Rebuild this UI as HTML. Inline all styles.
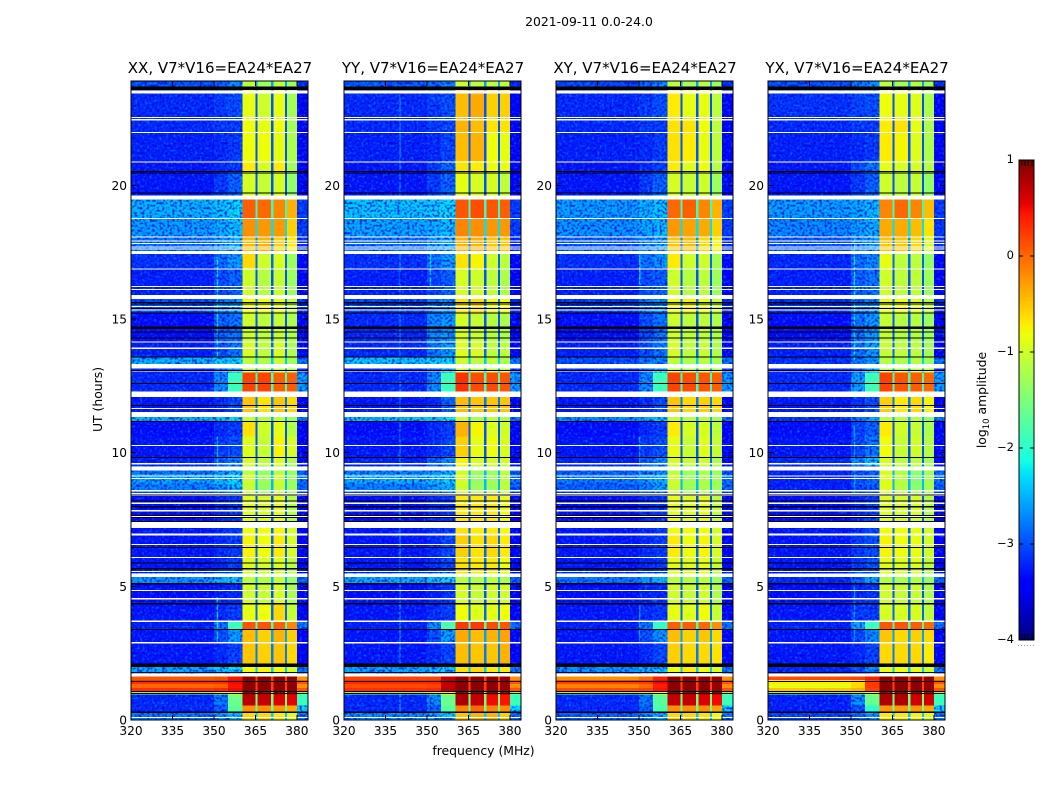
<!DOCTYPE html>
<html lang="en">
<head>
<meta charset="utf-8">
<title>2021-09-11 waterfall</title>
<style>
html,body{margin:0;padding:0;background:#fff;}
svg{display:block;font-family:"DejaVu Sans","Liberation Sans",sans-serif;fill:#000;}
</style>
</head>
<body>
<svg id="fig" xmlns="http://www.w3.org/2000/svg" width="1050" height="800" viewBox="0 0 1050 800">
<defs>
<filter id="grainLight" x="0" y="0" width="100%" height="100%">
<feTurbulence type="fractalNoise" baseFrequency="0.42" numOctaves="1" seed="4"/>
<feColorMatrix values="0 0 0 0 0  0 0 0 0 0.7  0 0 0 0 1  3.2 0 0 0 -1.6"/>
</filter>
<filter id="grainDark" x="0" y="0" width="100%" height="100%">
<feTurbulence type="fractalNoise" baseFrequency="0.4" numOctaves="1" seed="11"/>
<feColorMatrix values="0 0 0 0 0  0 0 0 0 0  0 0 0 0 0.72  3.4 0 0 0 -1.5"/>
</filter>
</defs>
<text x="589" y="26" font-size="12.4" text-anchor="middle">2021-09-11 0.0-24.0</text>
<text x="483.5" y="755" font-size="12.4" text-anchor="middle">frequency (MHz)</text>
<text x="102" y="399.5" font-size="12.4" text-anchor="middle" transform="rotate(-90 102 399.5)">UT (hours)</text>
<text x="986" y="400" font-size="12.4" text-anchor="middle" transform="rotate(-90 986 400)">log<tspan font-size="8.5" dy="3">10</tspan><tspan dy="-3"> amplitude</tspan></text>
</svg>
<script>
const panelTitles = ["XX, V7*V16=EA24*EA27", "YY, V7*V16=EA24*EA27", "XY, V7*V16=EA24*EA27", "YX, V7*V16=EA24*EA27"];
const xTickValues = [320, 335, 350, 365, 380];
const yTickValues = [0, 5, 10, 15, 20];
const colorTickValues = [1, 0, -1, -2, -3, -4];
const freqEdgesMHz = [320, 350, 355, 360.4, 365, 365.8, 370.7, 371.5, 375.6, 376.4, 380, 384];
const freqColumnSource = [0, 1, 2, 3, "line", 4, "line", 5, "line", 6, "right"];
const rowStartUT = [0,.3,.55,.95,1.05,1.2,1.35,1.5,1.74,2.11,2.9,3.4,3.72,4.34,5.1,5.5,6.1,7,7.4,8.5,8.85,9.2,9.5,9.85,10.6,11.17,11.33,12.09,13,13.31,13.55,14.1,15.2,15.9,16.9,17.45,18.06,18.76,19.46,20.5,20.9,22,22.5,23.43,23.7];
const rowLineLevel = [-2.2,-1.6,-1.4,-1.2,.2,.2,.2,.2,-2.2,-2.6,-2.4,-1.8,-2.7,-2.8,-2.3,-2.7,-2.7,-2.7,-2.8,-2.3,-2.3,-2.3,-2.7,-2.8,-2.8,-2.3,-2.6,-1.8,-2.4,-2.2,-2.7,-2.8,-2.6,-2.8,-2.7,-2.5,-2.1,-1.9,-2.8,-2.8,-2.8,-2.8,-2.8,-2.8,-2.4];
const rowRightLevel = [-2.6,-2.1,-1.9,-1.4,.1,-.1,.1,-.1,-2.6,-3.25,-3.2,-2.6,-3.25,-3.3,-2.7,-3.25,-3.25,-3.25,-3.3,-2.7,-2.6,-2.7,-3.2,-3.25,-3.3,-2.6,-3.25,-2.4,-3,-2.6,-3.2,-3.3,-3,-3.3,-3.2,-3,-2.9,-2.9,-3.3,-3.3,-3.3,-3.3,-3.3,-3.3,-3];
const xxLevels = [
[-2.6,-2.4,-2.2,-.5,-.5,-.6,-.8],[-3,-2.7,-1.7,-.1,-.1,-.15,-.25],[-3,-2.6,-1.6,.75,.7,.6,.55],[-1.5,-1,-.6,.9,.9,.9,.9],
[.3,.35,.5,.95,.95,.95,.95],[0,.05,.45,.95,.95,.95,.95],[.3,.3,.5,.95,.95,.95,.95],[.1,.15,.45,.95,.95,.95,.95],
[-2.35,-2.2,-2.1,-.7,-.65,-.7,-.85],[-3.1,-3,-2.85,-.4,-.45,-.4,-.5],[-3.1,-2.8,-2.4,-.35,-.45,-.3,-.45],[-3.05,-2.6,-1.9,.1,.1,.05,-.05],
[-3.1,-3,-2.9,-.75,-.7,-.5,-.95],[-3.15,-3.05,-3,-.9,-.95,-.85,-1.1],[-2.45,-2.3,-2.2,-1,-1.05,-.95,-1.25],[-3.1,-3,-2.9,-.8,-.85,-.8,-1],
[-3.1,-3,-2.9,-.65,-.7,-.6,-.85],[-3.1,-3,-2.9,-.7,-.7,-.65,-.85],[-3.15,-3,-2.95,-.8,-.85,-.75,-1.05],[-2.55,-2.4,-2.2,-.95,-1.25,-.95,-1.2],
[-2.35,-2.25,-2.1,-.9,-1.2,-.9,-1.2],[-2.6,-2.45,-2.3,-1,-1.25,-1,-1.2],[-3.05,-2.7,-2.5,-.85,-1,-.8,-1.1],[-3.1,-2.9,-2.8,-.8,-.95,-.65,-.85],
[-3.15,-3,-2.9,-.55,-.9,-.75,-1.05],[-2.3,-2.2,-2.1,-.95,-1.05,-.95,-1.2],[-3.1,-3,-2.8,-.4,-.55,-.4,-.5],[-3,-2.5,-1.9,.2,.2,.05,.05],
[-3,-2.7,-2.4,-1,-1.1,-1,-1.1],[-2.3,-2.15,-2.1,-1,-1.1,-.95,-1.15],[-3.05,-2.8,-2.6,-.85,-1,-.85,-1.1],[-3.15,-2.7,-2.6,-.9,-1,-.95,-1.1],
[-2.8,-2.5,-2.4,-.7,-.7,-.75,-1],[-3.05,-2.8,-2.7,-.9,-1.05,-.95,-1.2],[-2.95,-2.6,-2.4,-.5,-.9,-.85,-1.2],[-2.6,-2.4,-2.3,-.35,-.3,-.45,-.6],
[-2.4,-2.3,-2.2,-.1,-.15,-.15,-.45],[-2.3,-2.2,-2.1,.05,0,-.05,-.3],[-3.1,-2.9,-2.7,-.85,-.95,-.85,-1.25],[-3.1,-3,-2.95,-.6,-.85,-.6,-1.15],
[-3.05,-3,-2.9,-.7,-.7,-.75,-1.1],[-3,-2.9,-2.9,-.7,-.75,-.7,-1.15],[-3,-2.9,-2.8,-.75,-.9,-.75,-1.15],[-3,-2.9,-2.8,-.75,-.9,-.75,-1.15],[-2.8,-2.7,-2.5,-1,-1.2,-1,-1.2]
];
const yyLevels = [
[-2.5,-2.35,-2.2,-.4,-.3,-.3,-.45],[-3,-2.7,-1.7,-.05,0,-.05,-.1],[-3,-2.5,-1.6,.8,.7,.5,.45],[-1.4,-1,-.6,.9,.9,.9,.9],
[.3,.35,.75,.95,.95,.95,.9],[.15,.2,.7,.95,.95,.95,.9],[.35,.35,.75,.95,.95,.95,.9],[.2,.2,.7,.95,.95,.95,.9],
[-2.35,-2.25,-2.15,-.55,-.5,-.6,-.6],[-3.1,-3,-2.85,-.35,-.4,-.4,-.3],[-3.1,-2.8,-2.4,-.25,-.35,-.3,-.2],[-3.05,-2.5,-1.8,.25,.25,.15,.1],
[-3.1,-3,-2.9,-.7,-.8,-.75,-.7],[-3.15,-3.05,-2.95,-.85,-.95,-.9,-.9],[-2.35,-2.25,-2.15,-1,-1.05,-1,-1.1],[-3.1,-3,-2.85,-.55,-.6,-.6,-.7],
[-3.1,-3,-2.85,-.45,-.55,-.5,-.6],[-3.1,-3,-2.9,-.55,-.6,-.6,-.7],[-3.15,-3,-2.95,-.6,-.6,-.6,-.7],[-2.55,-2.4,-2.3,-.9,-1.2,-1.2,-1],
[-2.3,-2.25,-2.15,-.85,-1.25,-1.2,-1],[-2.55,-2.45,-2.3,-.9,-1.2,-1.2,-1],[-3.05,-2.7,-2.5,-.65,-.85,-.85,-.9],[-3.1,-3,-2.85,-.45,-.75,-.7,-.85],
[-3.15,-3,-2.9,-.3,-.65,-.8,-.9],[-2.25,-2.2,-2.05,-.9,-1.1,-1,-1.1],[-3.1,-3,-2.7,-.35,-.4,-.4,-.4],[-3,-2.5,-1.9,.3,.15,.15,.1],
[-3,-2.7,-2.3,-1,-1.05,-1,-1],[-2.2,-2.1,-2.1,-.9,-1,-1,-1.1],[-3,-2.6,-2.4,-.8,-.85,-1,-1],[-3,-2.5,-2.4,-.85,-.95,-1.05,-1.1],
[-2.85,-2.6,-2.5,-.55,-.5,-.7,-.7],[-3.05,-2.85,-2.7,-.85,-.9,-1,-1.1],[-2.95,-2.6,-2.4,-.55,-.65,-.9,-1],[-2.6,-2.4,-2.3,-.3,-.3,-.4,-.4],
[-2.35,-2.3,-2.2,-.05,-.1,-.15,-.15],[-2.2,-2.15,-2.1,.1,.15,.1,.05],[-3.1,-2.9,-2.7,-.75,-.85,-.85,-1],[-3.1,-2.9,-2.7,-.55,-.6,-.7,-.75],
[-3.05,-3,-2.85,-.35,-.3,-.7,-.75],[-3,-2.9,-2.85,-.3,-.35,-.55,-.55],[-3,-2.9,-2.8,-.35,-.25,-.45,-.45],[-3,-2.9,-2.8,-.35,-.25,-.45,-.45],[-2.75,-2.65,-2.5,-.9,-1,-1,-1]
];
const xyLevels = [
[-2.7,-2.5,-2.3,-.5,-.5,-.55,-.7],[-3,-2.7,-1.8,-.1,-.1,-.1,-.2],[-3,-2.6,-1.7,.7,.7,.6,.5],[-1.5,-1.1,-.7,.9,.9,.9,.9],
[.15,.2,.45,.95,.95,.95,.9],[-.05,0,.4,.95,.95,.95,.9],[.2,.25,.5,.95,.95,.95,.9],[-.1,0,.4,.95,.95,.95,.9],
[-2.45,-2.3,-2.2,-.7,-.6,-.7,-.8],[-3.1,-3,-2.85,-.45,-.5,-.5,-.55],[-3.1,-2.8,-2.45,-.35,-.45,-.4,-.5],[-3.05,-2.6,-1.95,.05,.05,0,-.1],
[-3.1,-3,-2.9,-.75,-.8,-.7,-.95],[-3.15,-3.05,-3,-.9,-.95,-.9,-1.1],[-2.6,-2.45,-2.3,-1,-1.05,-1,-1.2],[-3.1,-3,-2.9,-.75,-.8,-.75,-.95],
[-3.1,-3,-2.9,-.6,-.7,-.65,-.85],[-3.1,-3,-2.9,-.7,-.7,-.7,-.85],[-3.15,-3,-2.95,-.75,-.8,-.75,-1],[-2.7,-2.55,-2.4,-.95,-1.2,-1.1,-1.2],
[-2.55,-2.4,-2.3,-.9,-1.2,-1.1,-1.2],[-2.7,-2.55,-2.45,-1,-1.2,-1.1,-1.2],[-3.05,-2.7,-2.5,-.85,-.95,-.9,-1.1],[-3.1,-2.9,-2.8,-.75,-.95,-.8,-.95],
[-3.15,-3,-2.9,-.6,-.85,-.85,-1],[-2.5,-2.35,-2.2,-.95,-1.05,-1,-1.15],[-3.1,-3,-2.8,-.4,-.5,-.45,-.5],[-3,-2.5,-1.9,.2,.15,.1,.05],
[-3,-2.7,-2.4,-1,-1.1,-1,-1.1],[-2.8,-2.6,-2.5,-1,-1.1,-1,-1.15],[-3.05,-2.8,-2.6,-.85,-1,-.95,-1.1],[-3.15,-2.8,-2.6,-.9,-1,-1,-1.1],
[-2.9,-2.6,-2.5,-.7,-.65,-.75,-.95],[-3.05,-2.8,-2.7,-.9,-1.05,-1,-1.2],[-2.95,-2.6,-2.45,-.6,-.9,-.9,-1.15],[-2.7,-2.5,-2.4,-.4,-.35,-.5,-.65],
[-2.45,-2.35,-2.25,-.15,-.2,-.25,-.45],[-2.4,-2.3,-2.2,0,.05,-.05,-.3],[-3.1,-2.9,-2.7,-.85,-.95,-.9,-1.2],[-3.1,-3,-2.9,-.6,-.8,-.7,-1.05],
[-3.05,-3,-2.9,-.55,-.6,-.75,-1],[-3,-2.9,-2.9,-.55,-.55,-.7,-1],[-3,-2.9,-2.8,-.6,-.75,-.75,-1],[-3,-2.9,-2.8,-.6,-.75,-.75,-1],[-2.85,-2.7,-2.5,-1,-1.15,-1,-1.2]
];
const yxLevels = [
[-2.85,-2.65,-2.4,-.6,-.6,-.65,-.8],[-3.05,-2.75,-2,-.15,-.15,-.15,-.25],[-3.05,-2.5,-1.6,.8,.8,.65,.65],[-1.6,-1.2,-.9,.85,.85,.85,.85],
[-.4,-.3,.2,.95,.95,.95,.9],[-.75,-.5,.25,.95,.95,.95,.9],[-.6,-.5,.25,.95,.95,.95,.9],[.15,.2,.4,.95,.95,.95,.9],
[-3,-2.8,-2.5,-.75,-.7,-.75,-.9],[-3.1,-3,-2.85,-.5,-.5,-.5,-.6],[-3.1,-2.85,-2.5,-.4,-.5,-.45,-.5],[-3.05,-2.4,-1.9,.1,.1,.05,0],
[-3.1,-2.9,-2.9,-.85,-.85,-.85,-1],[-3.15,-3,-2.95,-.9,-.95,-.95,-1.1],[-3,-2.7,-2.4,-1.05,-1.1,-1.05,-1.25],[-3.1,-2.9,-2.8,-.75,-.8,-.8,-1],
[-3.1,-2.9,-2.8,-.65,-.7,-.75,-.9],[-3.1,-2.95,-2.85,-.7,-.7,-.75,-.9],[-3.15,-3,-2.9,-.8,-.85,-.85,-1.05],[-3.05,-2.8,-2.7,-.8,-1.05,-1.3,-1.15],
[-3.05,-2.8,-2.7,-.8,-1.05,-1.35,-1.15],[-3.05,-2.8,-2.7,-.85,-1.05,-1.3,-1.15],[-3,-2.5,-2.2,-.85,-1,-1,-1.15],[-3.1,-2.85,-2.6,-.7,-.95,-.9,-1.05],
[-3.15,-2.85,-2.7,-.6,-.9,-.95,-1.1],[-2.95,-2.6,-2.35,-1,-1.05,-1.05,-1.25],[-3.1,-2.95,-2.8,-.45,-.6,-.5,-.65],[-3,-2.4,-1.9,.2,.1,.05,0],
[-3,-2.8,-2.4,-1.05,-1.1,-1.05,-1.1],[-2.95,-2.6,-2.4,-1.05,-1.1,-1.05,-1.2],[-3.05,-2.6,-2.4,-.95,-1,-1,-1.15],[-3.15,-2.6,-2.4,-.95,-1.05,-1.05,-1.2],
[-2.95,-2.6,-2.5,-.75,-.7,-.8,-1],[-3.05,-2.7,-2.6,-.9,-1,-1,-1.2],[-3,-2.6,-2.5,-.75,-1,-1,-1.25],[-2.75,-2.5,-2.4,-.4,-.4,-.5,-.85],
[-2.5,-2.4,-2.3,-.25,-.25,-.35,-.55],[-2.4,-2.35,-2.25,-.05,0,-.05,-.35],[-3.1,-2.9,-2.7,-.9,-1,-.95,-1.25],[-3.1,-2.8,-2.6,-.75,-.85,-.85,-1.05],
[-3.05,-3,-2.9,-.6,-.65,-.8,-1.1],[-3,-2.9,-2.9,-.6,-.55,-.75,-1.1],[-2.95,-2.85,-2.8,-.7,-.75,-.8,-1.1],[-2.95,-2.85,-2.8,-.7,-.75,-.8,-1.1],[-2.8,-2.6,-2.5,-1,-1.15,-1.05,-1.2]
];
const xxRfi = [[351,2.9,4.6,-2.1],[351,8.6,10.6,-2.3],[351,13.4,16.4,-2.0],[351,16.4,17.3,-2.1]];
const yyRfi = [[340,0,13,-2.5],[340,13.3,23.4,-2.6],[351,16.2,17.6,-2.1]];
const xyRfi = [[350,2.9,4.3,-2.4],[350,9,10.6,-2.4],[350,16.3,17.4,-2.1]];
const yxRfi = [[351,2.9,5,-2.4],[351,8.5,11,-2.4],[351,13.4,16.2,-2.1],[351,16.2,18,-1.9]];
const missingWhiteUT = [[.07,.12],[1.62,1.74],[2.87,2.92],[3.66,3.72],[4.5,4.56],[4.82,4.87],[5.34,5.48],[5.53,5.58],[6.05,6.09],[6.54,6.58],[6.91,6.98],[7.18,7.41],[7.58,7.63],[7.8,7.85],[8.08,8.13],[8.37,8.41],[8.42,8.49],[8.55,8.61],[9.01,9.05],[9.11,9.15],[9.34,9.49],[9.56,9.61],[10.25,10.29],[11.33,11.52],[11.63,11.67],[12.09,12.29],[13.04,13.08],[13.15,13.31],[13.88,13.93],[14.11,14.15],[15.31,15.36],[15.44,15.48],[15.75,15.9],[16.08,16.12],[16.19,16.23],[16.85,16.89],[17.43,17.55],[17.59,17.63],[17.67,17.71],[17.8,17.84],[17.9,17.94],[18.05,18.09],[18.74,18.78],[19.46,19.62],[20.85,20.89],[21.95,21.99],[22.43,22.47],[22.51,22.55],[23.43,23.55]];
const missingBlackUT = [[.27,.31],[.97,1.01],[1.04,1.08],[1.42,1.45],[1.75,1.79],[1.99,2.11],[3.36,3.4],[4.32,4.37],[5.07,5.13],[5.63,5.69],[5.85,5.89],[6.43,6.47],[7.4,7.44],[7.55,7.59],[7.63,7.67],[7.95,8],[8.17,8.21],[8.39,8.43],[9.8,9.84],[11.15,11.19],[11.75,11.79],[12.56,12.6],[13.06,13.1],[13.55,13.59],[14.26,14.3],[14.5,14.54],[14.62,14.66],[14.67,14.71],[15.2,15.24],[15.37,15.41],[15.54,15.58],[15.59,15.63],[19.69,19.73],[20.44,20.48],[20.49,20.53],[23.56,23.69]];
const colorbarDomain = [-4, 1];
const panelLevels = [xxLevels, yyLevels, xyLevels, yxLevels];
const panelRfi = [xxRfi, yyRfi, xyRfi, yxRfi];
const panelKeys = ["xx", "yy", "xy", "yx"];

const NS = "http://www.w3.org/2000/svg";
const fig = document.getElementById("fig");
const AX_TOP = 81, AX_BOTTOM = 720, AX_W = 177, UT_MAX = 23.9;
const panelLeft = i => [131, 344, 556, 768][i];
const xScale = (f, i) => panelLeft(i) + (f - 320) / 64 * AX_W;
const yScale = t => AX_BOTTOM - t / UT_MAX * (AX_BOTTOM - AX_TOP);
const cbScale = v => 640 - (v - colorbarDomain[0]) / (colorbarDomain[1] - colorbarDomain[0]) * 480;
const tone = v => v < -2 ? v - .17 : (v < 0 && v > -1.5 ? v - .1 : v);

function ramp(t, pts) {
  for (let k = 1; k < pts.length; k++) {
    if (t <= pts[k][0]) {
      const a = pts[k - 1], b = pts[k];
      return a[1] + (b[1] - a[1]) * (t - a[0]) / (b[0] - a[0]);
    }
  }
  return pts[pts.length - 1][1];
}
function jet(v) {
  const t = Math.min(1, Math.max(0, (v - colorbarDomain[0]) / (colorbarDomain[1] - colorbarDomain[0])));
  const r = ramp(t, [[0, 0], [.35, 0], [.66, 1], [.89, 1], [1, .5]]);
  const g = ramp(t, [[0, 0], [.125, 0], [.375, 1], [.64, 1], [.91, 0], [1, 0]]);
  const b = ramp(t, [[0, .5], [.11, 1], [.34, 1], [.65, 0], [1, 0]]);
  return "rgb(" + Math.round(r * 255) + "," + Math.round(g * 255) + "," + Math.round(b * 255) + ")";
}
function mk(tag, parent, props) {
  const el = document.createElementNS(NS, tag);
  for (const k in props) el.setAttribute(k, props[k]);
  parent.appendChild(el);
  return el;
}
function fmt(v) { return v < 0 ? "\u2212" + (-v) : String(v); }

panelTitles.forEach((title, p) => {
  const left = panelLeft(p);
  const key = panelKeys[p];
  const g = mk("g", fig, {});
  
  

  const heat = mk("g", g, { "shape-rendering": "crispEdges" });
  
  

  const rfiGroup = mk("g", g, {});
  
  
  panelRfi[p].forEach(seg => {
    const x = xScale(seg[0], p);
    const line = mk("rect", rfiGroup, { x: x, y: yScale(seg[2]), width: 1.4, height: yScale(seg[1]) - yScale(seg[2]), fill: jet(seg[3]), opacity: .8 });
    
    
  });

  [["grainLight", .45], ["grainDark", .8]].forEach(spec => {
    const w = xScale(360.4, p) - left;
    const grain = mk("rect", g, { x: left, y: AX_TOP, width: w, height: AX_BOTTOM - AX_TOP, filter: "url(#" + spec[0] + ")", opacity: spec[1] });
    
    
    const right = xScale(380, p);
    const grainR = mk("rect", g, { x: right, y: AX_TOP, width: left + AX_W - right, height: AX_BOTTOM - AX_TOP, filter: "url(#" + spec[0] + ")", opacity: spec[1] });
    
    
  });

  const hot = mk("g", g, { "shape-rendering": "crispEdges" });
  
  
  rowStartUT.forEach((t0, r) => {
    const t1 = r + 1 < rowStartUT.length ? rowStartUT[r + 1] : UT_MAX;
    freqColumnSource.forEach((src, c) => {
      const level = src === "line" ? rowLineLevel[r] : src === "right" ? rowRightLevel[r] : panelLevels[p][r][src];
      const x0 = xScale(freqEdgesMHz[c], p), x1 = xScale(freqEdgesMHz[c + 1], p);
      const bright = level > -2.05 || (c > 2 && c < 10);
      const cell = mk("rect", bright ? hot : heat, { x: x0, y: yScale(t1), width: x1 - x0, height: yScale(t0) - yScale(t1), fill: jet(tone(level)) });
      
      
    });
  });

  const gaps = mk("g", g, { "shape-rendering": "crispEdges" });
  
  
  missingWhiteUT.forEach(pair => {
    const h = Math.max(1, yScale(pair[0]) - yScale(pair[1]));
    const gap = mk("rect", gaps, { x: left, y: yScale(pair[1]), width: AX_W, height: h, fill: "#fff" });
    
    
  });
  missingBlackUT.forEach(pair => {
    const h = Math.max(1, yScale(pair[0]) - yScale(pair[1]));
    const gap = mk("rect", gaps, { x: left, y: yScale(pair[1]), width: AX_W, height: h, fill: "#000" });
    
    
  });

  const ticks = mk("g", g, { stroke: "#000", "stroke-width": 1, "shape-rendering": "crispEdges" });
  
  
  xTickValues.forEach(f => {
    const x = xScale(f, p);
    const a = mk("line", ticks, { x1: x, x2: x, y1: AX_BOTTOM, y2: AX_BOTTOM - 5 });
    
    
    const b = mk("line", ticks, { x1: x, x2: x, y1: AX_TOP, y2: AX_TOP + 5 });
    
    
    const label = mk("text", g, { x: x, y: 735, "font-size": 12.2, "text-anchor": "middle" });
    label.textContent = f;
    
    
  });
  yTickValues.forEach(t => {
    const y = yScale(t);
    const a = mk("line", ticks, { x1: left, x2: left + 5, y1: y, y2: y });
    
    
    const b = mk("line", ticks, { x1: left + AX_W, x2: left + AX_W - 5, y1: y, y2: y });
    
    
    const label = mk("text", g, { x: left - 4, y: y + 4.5, "font-size": 12.2, "text-anchor": "end" });
    label.textContent = t;
    
    
  });

  const frame = mk("rect", g, { x: left, y: AX_TOP, width: AX_W, height: AX_BOTTOM - AX_TOP, fill: "none", stroke: "#000", "stroke-width": 1 });
  
  

  const titleEl = mk("text", g, { x: left + AX_W / 2 + .5, y: 73, "font-size": 15, "text-anchor": "middle" });
  titleEl.textContent = title;
  
  
});

const cb = mk("g", fig, {});


const cbSteps = mk("g", cb, { "shape-rendering": "crispEdges" });


for (let v = colorbarDomain[0]; v < colorbarDomain[1]; v += .02) {
  const step = mk("rect", cbSteps, { x: 1019, y: cbScale(v + .02), width: 15, height: cbScale(v) - cbScale(v + .02) + .5, fill: jet(v + .01) });
  
  
}
colorTickValues.forEach(v => {
  const y = cbScale(v);
  const a = mk("line", cb, { x1: 1019, x2: 1023, y1: y, y2: y, stroke: "#000", "shape-rendering": "crispEdges" });
  
  
  const b = mk("line", cb, { x1: 1034, x2: 1030, y1: y, y2: y, stroke: "#000", "shape-rendering": "crispEdges" });
  
  
  const label = mk("text", cb, { x: 1014, y: y + 3, "font-size": 11.5, "text-anchor": "end" });
  label.textContent = fmt(v);
  
  
});
[1022, 1025, 1028, 1032].forEach(x => {
  const top = mk("line", cb, { x1: x, x2: x, y1: 160, y2: 166, stroke: "#000", "shape-rendering": "crispEdges" });
  
  
  const bottom = mk("line", cb, { x1: x, x2: x, y1: 634, y2: 640, stroke: "#000", "shape-rendering": "crispEdges" });
  
  
});
[1018, 1021, 1024, 1027, 1030, 1033].forEach(x => {
  const dot = mk("rect", cb, { x: x, y: 645, width: 1, height: 1, fill: "#999", "shape-rendering": "crispEdges" });
  
  
});
const cbFrame = mk("rect", cb, { x: 1019, y: 160, width: 15, height: 480, fill: "none", stroke: "#000", "stroke-width": 1 });


</script>
</body>
</html>
